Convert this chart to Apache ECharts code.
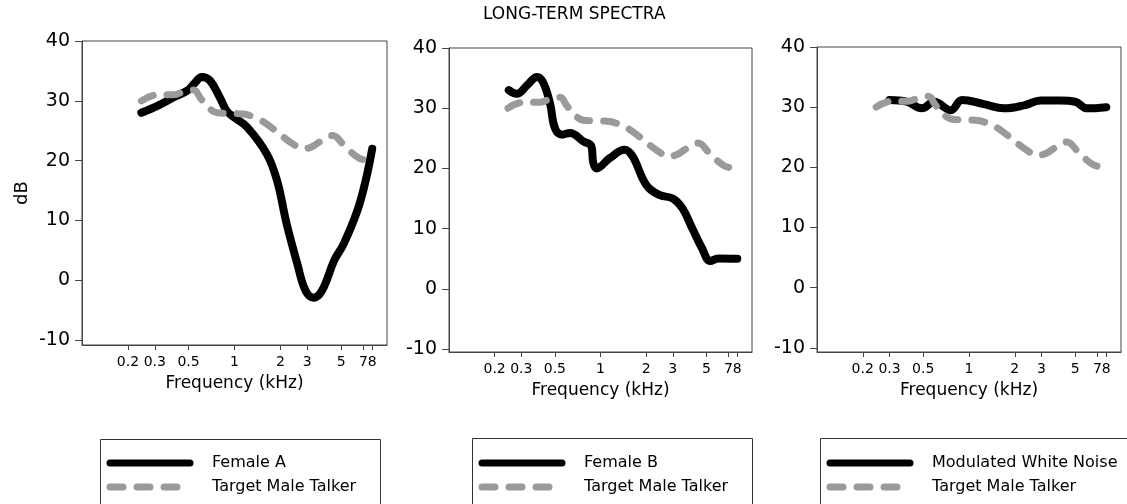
<!DOCTYPE html>
<html><head><meta charset="utf-8">
<script src="https://cdn.jsdelivr.net/npm/echarts@6/dist/echarts.min.js"></script>
<style>html,body{margin:0;padding:0;background:#fff}#c{width:1127px;height:504px}</style>
</head><body><div id="c"></div>
<script>
// ---- data (frequency in kHz, level in dB) ----
const freqTicks = [0.2, 0.3, 0.5, 1, 2, 3, 5, 7, 8];
const dbTicks = [-10, 0, 10, 20, 30, 40];
const seriesNames = ['Female A', 'Female B', 'Modulated White Noise', 'Target Male Talker'];

const femaleA = [[0.245,28],[0.32,29.3],[0.40,30.6],[0.49,31.7],[0.55,33],[0.61,34],[0.69,33.4],
  [0.8,30.6],[0.89,28.3],[1.0,27.2],[1.21,25.6],[1.63,21.1],[1.9,16.7],[2.2,9.4],[2.58,2.8],
  [2.92,-1.7],[3.3,-2.9],[3.75,-1.7],[4.5,3.3],[5.2,6.1],[6.4,11.7],[7.25,16.7],[8.0,22]];

const femaleB = [[0.248,33],[0.28,32.4],[0.33,33.9],[0.38,35.2],[0.42,34.2],[0.466,30.6],[0.50,26.7],
  [0.556,25.6],[0.63,25.9],[0.77,24.5],[0.87,23.7],[0.895,21],[0.94,20],[1.15,21.7],[1.44,23.1],
  [1.63,22],[2.0,17.3],[2.44,15.6],[3.0,15],[3.47,13.4],[4.04,10],[4.69,6.7],[5.3,4.6],[6.0,5.05],[8.0,5]];

const whiteNoise = [[0.3,31.2],[0.39,30.9],[0.49,29.8],[0.59,30.9],[0.76,29.5],[0.9,31.2],[1.25,30.5],
  [1.7,29.8],[2.3,30.3],[2.96,31.1],[4.0,31.1],[5.0,30.9],[6.0,29.8],[8.0,30]];

const targetMale = [[0.245,30],[0.31,31],[0.40,31],[0.47,31.6],[0.54,31.8],[0.60,30.4],[0.68,28.8],
  [0.77,28],[0.9,27.9],[1.15,27.8],[1.27,27.5],[1.5,26.7],[1.65,26],[1.95,24.6],[2.35,23],[2.85,22],
  [3.2,22.3],[3.65,23.2],[4.4,24.2],[5.3,22.4],[6.6,20.4],[8.0,20]];

// ---- layout ----
const FONT = 'DejaVu Sans';
const panels = [
  {grid:{left:82, top:41, width:305, height:304}, yMin:-10.8, name:seriesNames[0], data:femaleA, box:[98,437,280], yName:'dB'},
  {grid:{left:449, top:48, width:303, height:304}, yMin:-10.5, name:seriesNames[1], data:femaleB, box:[470,436,280], yName:''},
  {grid:{left:817, top:47, width:304, height:305}, yMin:-10.7, name:seriesNames[2], data:whiteNoise, box:[818,436,330], yName:''}
];

const toLog = arr => arr.map(p => [Math.log10(p[0]), p[1]]);
const logTicks = freqTicks.map(f => Math.log10(f));

const option = {
  backgroundColor: '#fff',
  animation: false,
  title: {text:'LONG-TERM SPECTRA', left:483, top:6, padding:0,
    textStyle:{fontFamily:FONT, fontSize:17, fontWeight:'normal', color:'#000'}},
  grid: panels.map(p => Object.assign({show:true, borderColor:'#444', borderWidth:1, backgroundColor:'transparent'}, p.grid)),
  xAxis: panels.map((p,i) => ({
    type:'value', gridIndex:i, min:-1, max:1,
    name:'Frequency (kHz)', nameLocation:'middle', nameGap:30,
    nameTextStyle:{fontFamily:FONT, fontSize:17, color:'#000'},
    axisLine:{show:true, onZero:false, lineStyle:{color:'#444', width:1}},
    axisTick:{show:true, inside:false, length:5, customValues:logTicks, lineStyle:{color:'#444'}},
    axisLabel:{customValues:logTicks, margin:10, fontFamily:FONT, fontSize:14, color:'#000', hideOverlap:false,
      formatter: v => String(Math.round(Math.pow(10, v) * 10) / 10)},
    splitLine:{show:false}
  })),
  yAxis: panels.map((p,i) => ({
    type:'value', gridIndex:i, min:p.yMin, max:40,
    name:p.yName, nameLocation:'middle', nameGap:51,
    nameTextStyle:{fontFamily:FONT, fontSize:18, color:'#000'},
    axisLine:{show:true, onZero:false, lineStyle:{color:'#444', width:1}},
    axisTick:{show:true, inside:false, length:7, customValues:dbTicks, lineStyle:{color:'#444'}},
    axisLabel:{customValues:dbTicks, margin:12, fontFamily:FONT, fontSize:19, color:'#000'},
    splitLine:{show:false}
  })),
  legend: panels.map(p => ({
    left: p.box[0] + 8.5, top: 455, orient:'vertical', padding:0,
    itemWidth:80, itemHeight:14, itemGap:8, selectedMode:false,
    data:[p.name, seriesNames[3]],
    lineStyle:{width:7},
    itemStyle:{opacity:0, borderWidth:0},
    textStyle:{fontFamily:FONT, fontSize:16, color:'#000', padding:[0,0,0,17]}
  })),
  graphic: panels.map(p => ({
    type:'rect', left:p.box[0], top:p.box[1], silent:true,
    shape:{width:p.box[2], height:100},
    style:{fill:'none', stroke:'#333', lineWidth:1}
  })),
  series: []
};

panels.forEach((p,i) => {
  option.series.push({
    type:'line', name:p.name, xAxisIndex:i, yAxisIndex:i, data:toLog(p.data),
    smooth:0.4, symbol:'none', showSymbol:false,
    lineStyle:{color:'#000', width:8, cap:'round', join:'round'}, itemStyle:{color:'#000'}
  });
  option.series.push({
    type:'line', name:seriesNames[3], xAxisIndex:i, yAxisIndex:i, data:toLog(targetMale),
    smooth:0.4, symbol:'none', showSymbol:false,
    lineStyle:{color:'#9a9a9a', width:7, type:[13,14], cap:'round', join:'round'}, itemStyle:{color:'#9a9a9a'}
  });
});

const chart = echarts.init(document.getElementById('c'), null, {renderer:'canvas'});
chart.setOption(option);
</script>
</body></html>
